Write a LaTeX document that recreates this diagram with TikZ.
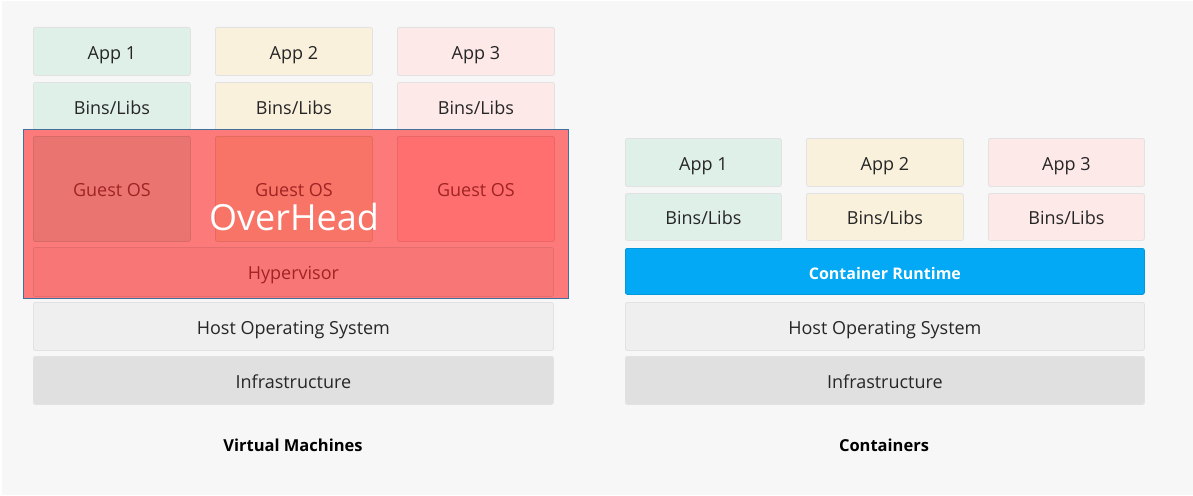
\documentclass[tikz,border=0pt]{standalone}
\usepackage{fontspec}
\setmainfont{Open Sans}
\newfontfamily\ohfont{Open Sans}
\definecolor{bgc}{HTML}{F7F7F7}
\definecolor{appg}{HTML}{DFF0E8}
\definecolor{appy}{HTML}{FAF1DD}
\definecolor{appp}{HTML}{FCE9E8}
\definecolor{hostc}{HTML}{EFEFEF}
\definecolor{infrac}{HTML}{E0E0E0}
\definecolor{edgec}{HTML}{E2E2E2}
\definecolor{txtc}{HTML}{262626}
\definecolor{ovfill}{HTML}{FD7A7A}
\definecolor{ovedge}{HTML}{41719C}
\definecolor{gos1}{HTML}{EA7470}
\definecolor{gos2}{HTML}{F87467}
\definecolor{gos3}{HTML}{FF6F6F}
\definecolor{hypc}{HTML}{F97676}
\definecolor{redtxt}{HTML}{A02424}
\definecolor{rtc}{HTML}{03A9F4}
\tikzset{
  box/.style={rectangle, rounded corners=2pt, draw=edgec, line width=0.8pt,
    anchor=north west, inner sep=0pt, text=txtc, text height=15.5pt, text depth=0pt,
    font=\fontsize{18}{20}\selectfont},
  redbox/.style={box, draw=#1!92!black, text=redtxt},
  caption/.style={font=\fontsize{16.5}{20}\selectfont\bfseries, text=black}
}
\begin{document}
\begin{tikzpicture}[x=1pt,y=-1pt]
\fill[white] (0,0) rectangle (1193,495);
\fill[bgc] (2,1) rectangle (1193,495);
\useasboundingbox (0,0) rectangle (1193,495);

% ---------- Virtual Machines ----------
\node[box, fill=appg, minimum width=157pt, minimum height=48pt] (vapp1) at (33,27) {App 1};
\node[box, fill=appy, minimum width=157pt, minimum height=48pt] (vapp2) at (215,27) {App 2};
\node[box, fill=appp, minimum width=157pt, minimum height=48pt] (vapp3) at (397,27) {App 3};
\node[box, fill=appg, minimum width=157pt, minimum height=48pt] (vbin1) at (33,82) {Bins/Libs};
\node[box, fill=appy, minimum width=157pt, minimum height=48pt] (vbin2) at (215,82) {Bins/Libs};
\node[box, fill=appp, minimum width=157pt, minimum height=48pt] (vbin3) at (397,82) {Bins/Libs};
\node[box, fill=hostc, minimum width=520pt, minimum height=48pt] (vhost) at (33,302) {Host Operating System};
\node[box, fill=infrac, minimum width=520pt, minimum height=48pt] (vinfra) at (33,356) {Infrastructure};

% overhead overlay
\node[rectangle, fill=ovfill, draw=ovedge, line width=1.3pt, anchor=north west,
  minimum width=545pt, minimum height=169pt, inner sep=0pt] (overhead) at (23,129) {};
\node[redbox=gos1, fill=gos1, minimum width=157pt, minimum height=105pt] (gos1) at (33,136) {Guest OS};
\node[redbox=gos2, fill=gos2, minimum width=157pt, minimum height=105pt] (gos2) at (215,136) {Guest OS};
\node[redbox=gos3, fill=gos3, minimum width=157pt, minimum height=105pt] (gos3) at (397,136) {Guest OS};
\node[redbox=hypc, fill=hypc, minimum width=520pt, minimum height=49pt] (hyp) at (33,247) {Hypervisor};
\node[text=white, font=\ohfont\fontsize{36}{40}\selectfont, inner sep=0pt, anchor=base] (ohlabel) at (294,230) {OverHead};

\node[caption] (vmcap) at (293,445) {Virtual Machines};

% ---------- Containers ----------
\node[box, fill=appg, minimum width=156pt, minimum height=48pt] (capp1) at (625,138) {App 1};
\node[box, fill=appy, minimum width=157pt, minimum height=48pt] (capp2) at (806,138) {App 2};
\node[box, fill=appp, minimum width=156pt, minimum height=48pt] (capp3) at (988,138) {App 3};
\node[box, fill=appg, minimum width=156pt, minimum height=47pt] (cbin1) at (625,193) {Bins/Libs};
\node[box, fill=appy, minimum width=157pt, minimum height=47pt] (cbin2) at (806,193) {Bins/Libs};
\node[box, fill=appp, minimum width=156pt, minimum height=47pt] (cbin3) at (988,193) {Bins/Libs};
\node[box, fill=rtc, draw=rtc!90!black, text=white, minimum width=519pt, minimum height=46pt,
  font=\fontsize{16}{20}\selectfont\bfseries] (crt) at (625,248) {Container Runtime};
\node[box, fill=hostc, minimum width=519pt, minimum height=48pt] (chost) at (625,302) {Host Operating System};
\node[box, fill=infrac, minimum width=519pt, minimum height=48pt] (cinfra) at (625,356) {Infrastructure};

\node[caption] (ccap) at (884,445) {Containers};
\end{tikzpicture}
\end{document}
